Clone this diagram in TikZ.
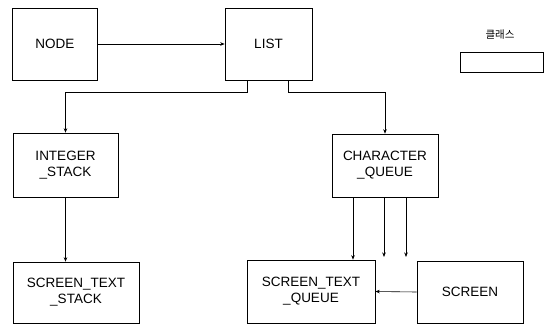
\documentclass[tikz,border=0pt]{standalone}
\usepackage{fontspec}
\setmainfont{Liberation Sans}
\newfontfamily\korfont{Noto Sans CJK KR}
\usetikzlibrary{arrows.meta, positioning}

\begin{document}
\begin{tikzpicture}[
  x=1pt, y=-1pt,
  every node/.style = {font=\fontsize{13.5}{16}\selectfont},
  classbox/.style   = {draw=black, line width=0.6pt, align=center,
                       inner sep=2pt},
  link/.style       = {-{Stealth[length=4.5pt, width=3.5pt]}, draw=black,
                       line width=0.6pt},
]
  \useasboundingbox (0,0) rectangle (552,327);

  % ------------------------------------------------------------ top row
  \node[classbox, minimum width=85pt, minimum height=72pt]
        (node) at (55,44)    {NODE};
  \node[classbox, minimum width=87pt, minimum height=72pt]
        (list) at (268.5,44) {LIST};

  % ------------------------------------------------------------- legend
  \node[font=\korfont\fontsize{10.5}{12}\selectfont]
        (legtitle) at (500,35) {클래스};
  \node[classbox, minimum width=83pt, minimum height=20pt]
        (legbox) at (501.5,62) {};

  % --------------------------------------------------------- stack side
  \node[classbox, minimum width=105pt, minimum height=64pt]
        (intstack) at (65.5,165) {INTEGER\\\_STACK};
  \node[classbox, minimum width=126pt, minimum height=61pt]
        (scrstack) at (76,292.5) {SCREEN\_TEXT\\\_STACK};

  % --------------------------------------------------------- queue side
  \node[classbox, minimum width=106pt, minimum height=63pt]
        (charq) at (385,165.5) {CHARACTER\\\_QUEUE};
  \node[classbox, minimum width=128pt, minimum height=63pt]
        (scrq) at (311,291.5) {SCREEN\_TEXT\\\_QUEUE};
  \node[classbox, minimum width=106pt, minimum height=62pt]
        (screen) at (470,292) {SCREEN};

  \coordinate (gapA) at (384,257);
  \coordinate (gapB) at (406,257);

  % ------------------------------------------------------------ linkage
  \draw[link] (node.east) -- (list.west);
  \draw[link] ([xshift=-21pt]list.south) -- ++(0,12) -| (intstack.north);
  \draw[link] ([xshift=20pt]list.south) -- ++(0,12) -| (charq.north);
  \draw[link] (intstack.south) -- (intstack.south |- scrstack.north);
  \draw[link] ([xshift=-32pt]charq.south) -- ([xshift=-32pt]charq.south |- scrq.north);
  \draw[link] (charq.south -| gapA) -- (gapA);
  \draw[link] (charq.south -| gapB) -- (gapB);
  \draw[link] (screen.west) -- (scrq.east);

\end{tikzpicture}
\end{document}
